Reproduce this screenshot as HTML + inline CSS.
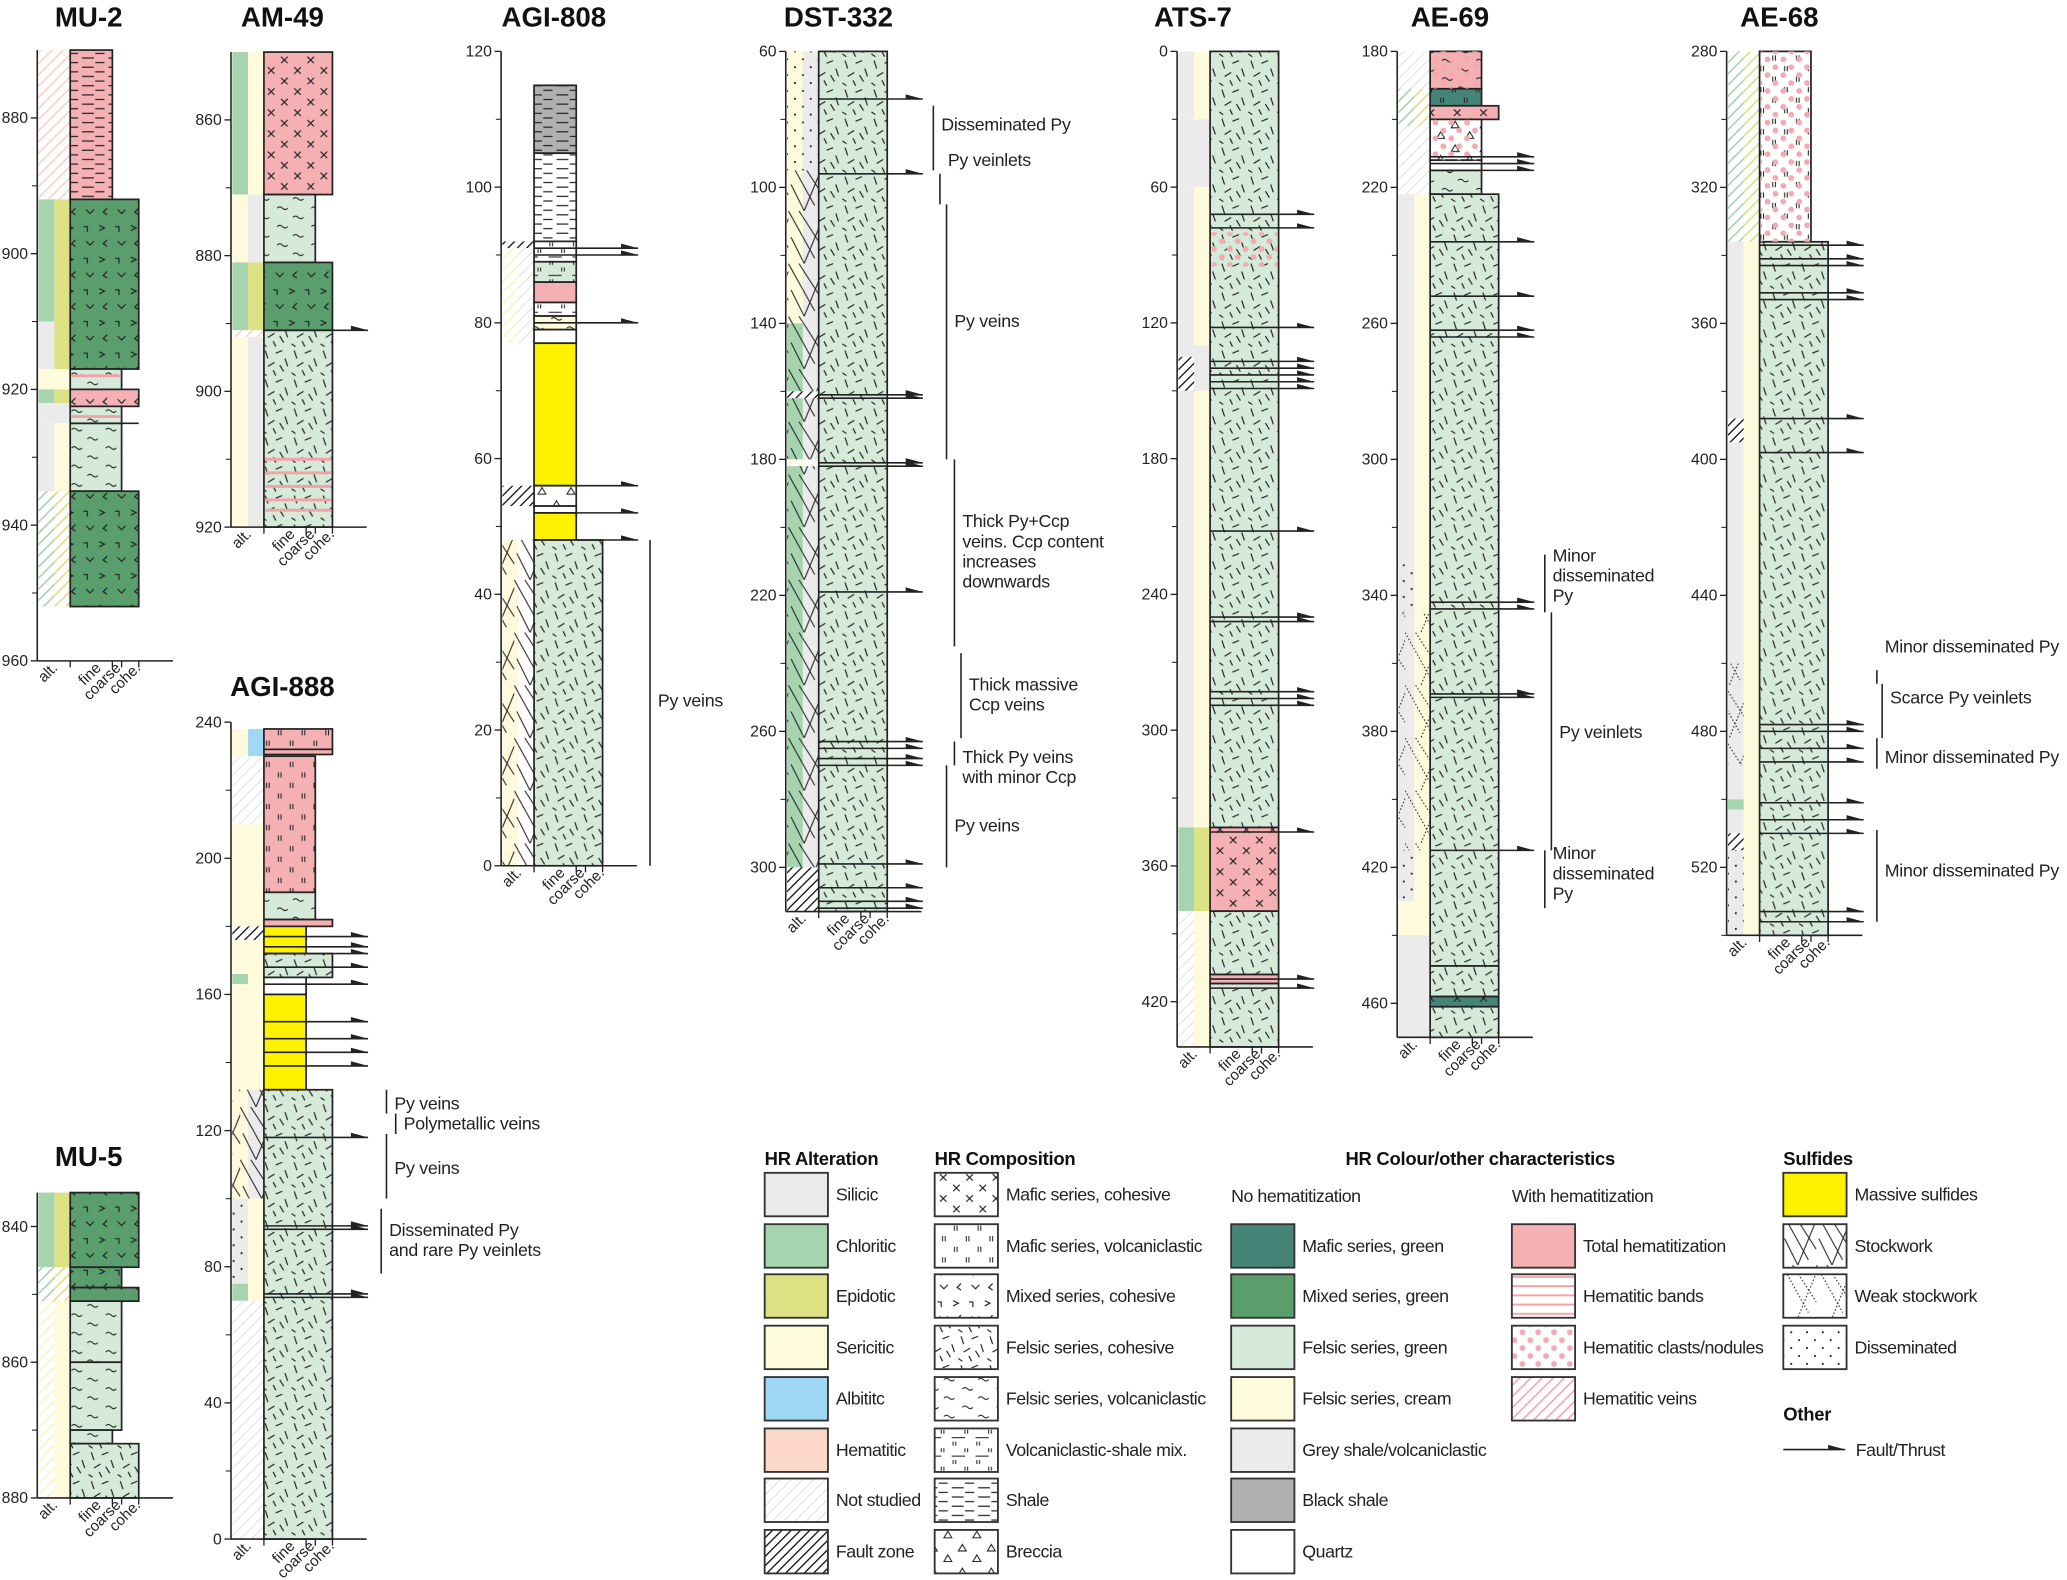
<!DOCTYPE html>
<html><head><meta charset="utf-8">
<style>
html,body{margin:0;padding:0;background:#fff}
svg{display:block;font-family:"Liberation Sans",sans-serif}
</style></head>
<body>
<svg id="fig" xmlns="http://www.w3.org/2000/svg" width="2067" height="1580" viewBox="0 0 1568 1199">
<defs>
<pattern id="p-felsic" patternUnits="userSpaceOnUse" width="22" height="22"><g stroke="#222" stroke-width="0.9"><line x1="3" y1="2" x2="5" y2="8"/><line x1="11" y1="4" x2="16" y2="2"/><line x1="18" y1="8" x2="20" y2="14"/><line x1="5" y1="14" x2="10" y2="11"/><line x1="9" y1="17" x2="11" y2="21"/><line x1="14" y1="13" x2="17" y2="18"/><line x1="1" y1="19" x2="4" y2="21"/></g></pattern>
<pattern id="p-fvolc" patternUnits="userSpaceOnUse" width="26" height="14"><g stroke="#222" stroke-width="0.8" fill="none"><path d="M2 4q2-2 4 0t4 0"/><path d="M14 11q2-2 4 0t4 0"/></g></pattern>
<pattern id="p-mixed" patternUnits="userSpaceOnUse" width="24" height="24"><g stroke="#222" stroke-width="0.9" fill="none"><path d="M3 3l4 2-4 2"/><path d="M15 4h3v4"/><path d="M9 14l-3 3 3 2"/><path d="M17 15l3 3 3-3"/></g></pattern>
<pattern id="p-mafic" patternUnits="userSpaceOnUse" width="20" height="16"><g stroke="#222" stroke-width="0.9"><path d="M3 3l5 5M8 3l-5 5"/><path d="M13 11l5 5M18 11l-5 5"/></g></pattern>
<pattern id="p-mafv" patternUnits="userSpaceOnUse" width="18" height="16"><g stroke="#222" stroke-width="0.8"><path d="M4 2v4M6 2v4M13 10v4M15 10v4"/></g></pattern>
<pattern id="p-shale" patternUnits="userSpaceOnUse" width="20" height="7"><g stroke="#222" stroke-width="0.9"><path d="M2 2h9M12 5.5h7"/></g></pattern>
<pattern id="p-volsh" patternUnits="userSpaceOnUse" width="18" height="14"><g stroke="#222" stroke-width="0.8"><path d="M3 2v3M5 2v3M12 7v3M14 7v3"/><path d="M2 13h10"/></g></pattern>
<pattern id="p-breccia" patternUnits="userSpaceOnUse" width="22" height="18"><g stroke="#222" stroke-width="0.8" fill="none"><path d="M4 2l3 5h-6z"/><path d="M15 10l3 5h-6z"/></g></pattern>
<pattern id="p-hbands" patternUnits="userSpaceOnUse" width="10" height="7"><path d="M0 3h10" stroke="#f3a2a8" stroke-width="1.5"/></pattern>
<pattern id="p-hdots" patternUnits="userSpaceOnUse" width="12" height="12"><circle cx="3" cy="3" r="2.2" fill="#f6a9ae"/><circle cx="9" cy="9" r="2.2" fill="#f6a9ae"/></pattern>
<pattern id="p-dissem" patternUnits="userSpaceOnUse" width="12" height="12"><circle cx="3" cy="3" r="0.8" fill="#222"/><circle cx="9" cy="9" r="0.8" fill="#222"/></pattern>
<pattern id="p-stock" patternUnits="userSpaceOnUse" width="26" height="40"><g stroke="#222" stroke-width="0.8"><path d="M0 0l20 36M8 0l18 28M26 6l-14 34M2 20l10 20"/></g></pattern>
<pattern id="p-weak" patternUnits="userSpaceOnUse" width="26" height="40"><g stroke="#222" stroke-width="0.8" stroke-dasharray="1.2 1.5"><path d="M0 0l20 36M8 0l18 28M26 6l-14 34"/></g></pattern>
<pattern id="h-fault" patternUnits="userSpaceOnUse" width="5" height="5" patternTransform="rotate(45)"><rect width="5" height="5" fill="#fff"/><path d="M0 0v5" stroke="#111" stroke-width="2"/></pattern>
<pattern id="h-hem" patternUnits="userSpaceOnUse" width="6" height="6" patternTransform="rotate(45)"><rect width="6" height="6" fill="#fff"/><path d="M0 0v6" stroke="#f6a9ae" stroke-width="2.5"/></pattern>
<pattern id="h-hemalt" patternUnits="userSpaceOnUse" width="6" height="6" patternTransform="rotate(45)"><rect width="6" height="6" fill="#fff"/><path d="M0 0v6" stroke="#fbd2c4" stroke-width="2.5"/></pattern>
<pattern id="h-chl" patternUnits="userSpaceOnUse" width="6" height="6" patternTransform="rotate(45)"><rect width="6" height="6" fill="#fff"/><path d="M0 0v6" stroke="#a6d4af" stroke-width="2.5"/></pattern>
<pattern id="h-epi" patternUnits="userSpaceOnUse" width="6" height="6" patternTransform="rotate(45)"><rect width="6" height="6" fill="#fff"/><path d="M0 0v6" stroke="#dce183" stroke-width="2.5"/></pattern>
<pattern id="h-ser" patternUnits="userSpaceOnUse" width="6" height="6" patternTransform="rotate(45)"><rect width="6" height="6" fill="#fff"/><path d="M0 0v6" stroke="#fcf4c4" stroke-width="2.5"/></pattern>
<pattern id="h-nots" patternUnits="userSpaceOnUse" width="6" height="6" patternTransform="rotate(45)"><rect width="6" height="6" fill="#fff"/><path d="M0 0v6" stroke="#e6e6e6" stroke-width="2"/></pattern>
</defs>
<g id="logs"></g>
<g id="legend"></g>
</svg>
<script>
// ---------- data ----------
const COL = {pink:'#f4b0b3', dgreen:'#5a9e6e', mgreen:'#458577', fgreen:'#d5ead8', cream:'#fefbdc', yellow:'#fff200', grey:'#ebebeb', bshale:'#b0b0b0', white:'#ffffff',
  sil:'#ebebeb', chl:'#a6d4af', epi:'#dce183', ser:'#fefbdc', alb:'#9ed8f5', hem:'#fbd7ca'};
const WID = {f:32, c:39, h:52};

const mu2Litho = [[870,892,'pink','shale','f'],[892,917,'dgreen','mixed','h'],[917,920,'fgreen','fvolc','c'],[920,922.5,'pink','mixed','h'],[922.5,925,'fgreen','fvolc','c'],[925,935,'fgreen','fvolc','c'],[935,952,'dgreen','mixed','h']];
const mu2Alt = [[870,892,'h-hemalt','h-hemalt'],[892,910,'chl','epi'],[910,917,'sil','epi'],[917,920,'ser','ser'],[920,922,'chl','epi'],[922,925,'sil','sil'],[925,935,'sil','ser'],[935,952,'h-chl','h-epi']];
const mu2Faults = [925];
const mu2Bands = [918,924];

const am49Litho = [[850,871,'pink','mafic','h'],[871,881,'fgreen','fvolc','c'],[881,891,'dgreen','mixed','h'],[891,920,'fgreen','felsic','h']];
const am49Alt = [[850,871,'chl','ser'],[871,881,'ser','sil'],[881,891,'chl','epi'],[891,892,'h-hemalt','h-hemalt'],[892,920,'ser','sil']];
const am49Faults = [891];
const am49Bands = [910,912,914,916,917.5];

const agi808Litho = [[115,105,'bshale','shale','f'],[105,92,'white','shale','f'],[92,89,'white','volsh','f'],[89,86,'fgreen','volsh','f'],[86,83,'pink','','f'],[83,81,'white','volsh','f'],[81,79,'cream','fvolc','f'],[79,77,'white','','f'],[77,56,'yellow','','f'],[56,53,'white','breccia','f'],[53,52,'white','','f'],[52,48,'yellow','','f'],[48,0,'fgreen','felsic','h']];
const agi808Alt = [[92,91,'h-fault','h-fault'],[91,77,'h-ser','h-nots'],[56,53,'h-fault','h-fault'],[48,0,'p-stock-ser','p-stock-nots']];
const agi808Faults = [91,90,80,56,52,48];

const dstLitho = [[60,313,'fgreen','felsic','h']];
const dstAlt = [[60,95,'p-dis-ser','p-dis-sil'],[95,140,'p-stock-ser','p-stock-sil'],[140,160,'p-stock-chl','p-stock-sil'],[160,162,'h-fault','h-fault'],[162,180,'p-stock-chl','p-stock-sil'],[180,182,'h-ser','h-ser'],[182,300,'p-stock-chl','p-stock-sil'],[300,313,'h-fault','h-fault']];
const dstFaults = [74,96,161,162,181,182,219,263,265,268,270,299,306,310,312];

const atsLitho = [[0,343,'fgreen','felsic','h'],[343,380,'pink','mafic','h'],[380,408,'fgreen','felsic','h'],[408,412,'pink','','h'],[412,440,'fgreen','felsic','h']];
const atsAlt = [[0,30,'sil','ser'],[30,60,'sil','sil'],[60,130,'sil','ser'],[130,135,'sil','sil'],[135,150,'h-fault','sil'],[150,343,'sil','ser'],[343,380,'chl','epi'],[380,440,'h-nots','ser']];
const atsFaults = [72,78,122,137,140,143,146,149,212,250,252,283,286,289,345,410,414];
const atsClasts = [[80,95]];

const ae69Litho = [[180,191,'pink','fvolc','c'],[191,196,'mgreen','mafv','c'],[196,200,'pink','mafic','h'],[200,212,'white','breccia','c'],[212,215,'white','','c'],[215,222,'fgreen','fvolc','c'],[222,449,'fgreen','felsic','h'],[449,458,'fgreen','felsic','h'],[458,461,'mgreen','mafic','h'],[461,470,'fgreen','felsic','h']];
const ae69Alt = [[180,191,'h-nots','h-nots'],[191,202,'h-chl','h-epi'],[202,222,'h-nots','h-nots'],[222,330,'sil','ser'],[330,345,'p-dis-sil','ser'],[345,415,'p-weak-sil','p-weak-ser'],[415,430,'p-dis-sil','ser'],[430,440,'ser','ser'],[440,470,'sil','sil']];
const ae69Faults = [211,213,215,236,252,262,264,342,344,369,370,415];
const ae69Clasts = [[180,191],[200,212]];

const ae68Litho = [[280,336,'white','mafv','c'],[336,540,'fgreen','felsic','h']];
const ae68Alt = [[280,336,'h-chl','h-epi'],[336,340,'sil','ser'],[340,350,'sil','ser'],[350,388,'sil','ser'],[388,395,'h-fault','ser'],[395,460,'sil','ser'],[460,490,'p-weak-sil','ser'],[490,500,'sil','ser'],[500,503,'chl','ser'],[503,510,'sil','ser'],[510,515,'h-fault','ser'],[515,540,'p-dis-sil','ser']];
const ae68Faults = [337,341,343,351,353,388,398,478,480,485,489,501,506,510,533,536];

const agi888Litho = [[238,232,'pink','mafv','h'],[232,230.5,'pink','','h'],[230,190,'pink','mafv','c'],[190,182,'fgreen','fvolc','c'],[182,180,'pink','','h'],[180,172,'yellow','','f'],[172,165,'fgreen','felsic','h'],[165,160,'white','','f'],[160,132,'yellow','','f'],[132,0,'fgreen','felsic','h']];
const agi888Alt = [[238,230,'ser','alb'],[230,210,'h-nots','h-nots'],[210,180,'ser','ser'],[180,176,'h-fault','h-fault'],[176,166,'ser','ser'],[166,163,'chl','ser'],[163,132,'ser','ser'],[132,120,'p-stock-ser','p-stock-sil'],[120,100,'p-stock-ser','p-stock-sil'],[100,75,'p-dis-sil','ser'],[75,70,'chl','ser'],[70,0,'h-nots','h-nots']];
const agi888Faults = [177,174,172,168,163,152,147,143,139,118,92,91,72,71];

const mu5Litho = [[835,846,'dgreen','mixed','h'],[846,849,'dgreen','mixed','c'],[849,851,'dgreen','mixed','h'],[851,860,'fgreen','fvolc','c'],[860,870,'fgreen','fvolc','c'],[870,872,'fgreen','fvolc','f'],[872,880,'fgreen','felsic','h']];
const mu5Alt = [[835,846,'chl','epi'],[846,851,'h-chl','h-epi'],[851,880,'h-ser','ser']];

const LOGS = [
 {name:'MU-2', ax:28, topY:38, topD:870, k:5.15, dir:1, t0:880, t1:960, step:20, bot:960, litho:mu2Litho, alt:mu2Alt, faults:mu2Faults, bands:mu2Bands, short:true, tx:67},
 {name:'AM-49', ax:175, topY:39.5, topD:850, k:5.15, dir:1, t0:860, t1:920, step:20, bot:920, litho:am49Litho, alt:am49Alt, faults:am49Faults, bands:am49Bands, tx:214},
 {name:'AGI-808', ax:380, topY:39, topD:120, k:5.15, dir:-1, t0:0, t1:120, step:20, bot:0, litho:agi808Litho, alt:agi808Alt, faults:agi808Faults, tx:420},
 {name:'DST-332', ax:596, topY:39, topD:60, k:2.58, dir:1, t0:60, t1:300, step:40, bot:313, litho:dstLitho, alt:dstAlt, faults:dstFaults, tx:636},
 {name:'ATS-7', ax:893, topY:39, topD:0, k:1.717, dir:1, t0:0, t1:420, step:60, bot:440, litho:atsLitho, alt:atsAlt, faults:atsFaults, clasts:atsClasts, tx:905},
 {name:'AE-69', ax:1060, topY:39, topD:180, k:2.58, dir:1, t0:180, t1:460, step:40, bot:470, litho:ae69Litho, alt:ae69Alt, faults:ae69Faults, clasts:ae69Clasts, tx:1100},
 {name:'AE-68', ax:1310, topY:39, topD:280, k:2.58, dir:1, t0:280, t1:520, step:40, bot:540, litho:ae68Litho, alt:ae68Alt, faults:ae68Faults, clasts:[[280,336]], tx:1350},
 {name:'AGI-888', ax:175, topY:548, topD:240, k:2.583, dir:-1, t0:0, t1:240, step:40, bot:0, litho:agi888Litho, alt:agi888Alt, faults:agi888Faults, titleY:528, tx:214},
 {name:'MU-5', ax:28, topY:905, topD:835, k:5.15, dir:1, t0:840, t1:880, step:20, bot:880, litho:mu5Litho, alt:mu5Alt, faults:[], titleY:885, tx:67}
];

// annotations: [log index, depthFrom, depthTo, bracketX, text lines, textY]
const NOTES = [
 [2,48,0,493,['Py veins'],536],
 [3,76,95,708,['Disseminated Py'],99],
 [3,96,105,713,['Py veinlets'],126],
 [3,105,180,718,['Py veins'],248],
 [3,180,235,724,['Thick Py+Ccp','veins. Ccp content','increases','downwards'],400],
 [3,237,262,729,['Thick massive','Ccp veins'],524],
 [3,263,270,724,['Thick Py veins','with minor Ccp'],579],
 [3,270,300,718,['Py veins'],631],
 [5,328,345,1172,['Minor','disseminated','Py'],426],
 [5,345,415,1177,['Py veinlets'],560],
 [5,415,432,1172,['Minor','disseminated','Py'],652],
 [6,462,466,1424,['Minor disseminated Py'],495],
 [6,466,482,1428,['Scarce Py veinlets'],534],
 [6,482,491,1424,['Minor disseminated Py'],579],
 [6,509,536,1424,['Minor disseminated Py'],665],
 [7,132,125,293,['Py veins'],842],
 [7,125,119,300,['Polymetallic veins'],857],
 [7,119,100,293,['Py veins'],891],
 [7,97,78,289,['Disseminated Py','and rare Py veinlets'],938]
];

// ---------- drawing ----------
const NS='http://www.w3.org/2000/svg';
function mk(tag, attrs, parent){const e=document.createElementNS(NS,tag);for(const k in attrs)e.setAttribute(k,attrs[k]);parent.appendChild(e);return e;}
function altFill(code){
  if(code.startsWith('h-')) return [null,'url(#'+code+')'];
  if(code.startsWith('p-stock-')) return [COL[code.slice(8)],'url(#p-stock)'];
  if(code.startsWith('p-weak-')) return [COL[code.slice(7)],'url(#p-weak)'];
  if(code.startsWith('p-dis-')) return [COL[code.slice(6)],'url(#p-dissem)'];
  return [COL[code],null];
}
const root=document.getElementById('logs');
LOGS.forEach((L,li)=>{
  const g=mk('g',{},root);
  
  
  const y=d=>L.topY+(d-L.topD)*L.k*L.dir;
  const x0=L.ax+25;
  const t=mk('text',{x:L.tx,y:L.titleY||20,'font-size':21,'font-weight':'bold','text-anchor':'middle',fill:'#111'},g);
  t.textContent=L.name;
  
  
  L.alt.forEach(a=>{
    const ya=y(a[0]), yb=y(a[1]), top=Math.min(ya,yb), h=Math.abs(yb-ya);
    [a[2],a[3]].forEach((c,i)=>{
      const [bg,pt]=altFill(c);const xx=L.ax+1+i*12;
      if(bg){const r=mk('rect',{x:xx,y:top,width:12,height:h,fill:bg},g);}
      if(pt){const r=mk('rect',{x:xx,y:top,width:12,height:h,fill:pt},g);}
    });
  });
  L.litho.forEach(s=>{
    const ya=y(s[0]), yb=y(s[1]), top=Math.min(ya,yb), h=Math.abs(yb-ya), w=WID[s[4]];
    const r=mk('rect',{x:x0,y:top,width:w,height:h,fill:COL[s[2]]},g);
    
    
    if(s[3]){const p=mk('rect',{x:x0,y:top,width:w,height:h,fill:'url(#p-'+s[3]+')'},g);}
    mk('rect',{x:x0,y:top,width:w,height:h,fill:'none',stroke:'#222','stroke-width':1.3},g);
  });
  (L.clasts||[]).forEach(c=>{
    const ya=y(c[0]), yb=y(c[1]);
    const r=mk('rect',{x:x0+1,y:Math.min(ya,yb),width:(L.name==='ATS-7'?50:37),height:Math.abs(yb-ya),fill:'url(#p-hdots)'},g);
    
  });
  (L.bands||[]).forEach(b=>{
    const r=mk('line',{x1:x0+1,x2:x0+(L.name==='MU-2'?38:51),y1:y(b),y2:y(b),stroke:'#f3a2a8','stroke-width':2.2},g);
    
  });
  L.faults.forEach(f=>{
    const yy=y(f);
    const end=L.short?x0+52:x0+79;
    const ln=mk('line',{x1:x0,x2:end,y1:yy,y2:yy,stroke:'#222','stroke-width':1.2},g);
    
    if(!L.short) mk('path',{d:`M${end-13} ${yy-3.5}L${end} ${yy}L${end-13} ${yy}Z`,fill:'#222'},g);
  });
  const yt=y(L.topD), yb=y(L.bot);
  const ax=mk('line',{x1:L.ax,x2:L.ax,y1:Math.min(yt,yb),y2:Math.max(yt,yb),stroke:'#222','stroke-width':1.2},g);
  
  for(let d=L.t0; d<=L.t1; d+=L.step){
    mk('line',{x1:L.ax-5,x2:L.ax,y1:y(d),y2:y(d),stroke:'#222','stroke-width':1},g);
    const m=d+L.step/2; if((L.dir>0&&m<=L.bot)||(L.dir<0&&m<=L.topD)) mk('line',{x1:L.ax-4,x2:L.ax,y1:y(m),y2:y(m),stroke:'#222','stroke-width':0.8},g);
    const tx=mk('text',{x:L.ax-7,y:y(d)+4,'font-size':12,'text-anchor':'end',fill:'#222'},g);
    tx.textContent=d;
    
  }
  const by=Math.max(yt,yb);
  mk('line',{x1:L.ax,x2:x0+78,y1:by,y2:by,stroke:'#222','stroke-width':1.2},g);
  [[L.ax+12,'alt.'],[x0+20,'fine'],[x0+35,'coarse'],[x0+50,'cohe.']].forEach(([xx,s])=>{
    const tx=mk('text',{x:xx+4,y:by+6,'font-size':11.5,'text-anchor':'end',fill:'#222',transform:`rotate(-45 ${xx+4} ${by+6})`},g);
    tx.textContent=s;
  });
  [x0,x0+32,x0+39,x0+52].forEach(xx=>mk('line',{x1:xx,x2:xx,y1:by,y2:by+5,stroke:'#222'},g));
});
NOTES.forEach(n=>{
  const L=LOGS[n[0]];const y=d=>L.topY+(d-L.topD)*L.k*L.dir;
  const g=mk('g',{},root);
  
  mk('line',{x1:n[3],x2:n[3],y1:y(n[1]),y2:y(n[2]),stroke:'#222','stroke-width':1.2},g);
  n[4].forEach((s,i)=>{const t=mk('text',{x:n[3]+6,y:n[5]+i*15.3,'font-size':13.5,'letter-spacing':-0.2,fill:'#222'},g);t.textContent=s;});
});
// ---------- legend ----------
const LG=document.getElementById('legend');
function hdr(x,y,s,anchor){const t=mk('text',{x:x,y:y,'font-size':14,'font-weight':'bold','letter-spacing':-0.2,fill:'#111','text-anchor':anchor||'start'},LG);t.textContent=s;}
function item(x,y,bg,pat,label){
  const g=mk('g',{},LG);
  
  mk('rect',{x:x,y:y,width:48,height:33,fill:bg||'#fff'},g);
  if(pat) mk('rect',{x:x,y:y,width:48,height:33,fill:pat},g);
  mk('rect',{x:x,y:y,width:48,height:33,fill:'none',stroke:'#333','stroke-width':1.4},g);
  const t=mk('text',{x:x+54,y:y+21,'font-size':13.5,'letter-spacing':-0.35,fill:'#222'},g);t.textContent=label;
}
const rowsY=[890,929,967,1006,1045,1084,1122,1161];
hdr(580,884,'HR Alteration');
[['#ebebeb',null,'Silicic'],['#a6d4af',null,'Chloritic'],['#dce183',null,'Epidotic'],['#fefbdc',null,'Sericitic'],['#9ed8f5',null,'Albititc'],['#fbd7ca',null,'Hematitic'],[null,'url(#h-nots)','Not studied'],[null,'url(#h-fault)','Fault zone']].forEach((r,i)=>item(580,rowsY[i],r[0],r[1],r[2]));
hdr(709,884,'HR Composition');
[['mafic','Mafic series, cohesive'],['mafv','Mafic series, volcaniclastic'],['mixed','Mixed series, cohesive'],['felsic','Felsic series, cohesive'],['fvolc','Felsic series, volcaniclastic'],['volsh','Volcaniclastic-shale mix.'],['shale','Shale'],['breccia','Breccia']].forEach((r,i)=>item(709,rowsY[i],'#fff','url(#p-'+r[0]+')',r[1]));
hdr(1123,884,'HR Colour/other characteristics','middle');
const sub1=mk('text',{x:934,y:912,'font-size':13.5,'letter-spacing':-0.35,fill:'#222'},LG);sub1.textContent='No hematitization';
const sub2=mk('text',{x:1147,y:912,'font-size':13.5,'letter-spacing':-0.35,fill:'#222'},LG);sub2.textContent='With hematitization';
[['#458577','Mafic series, green'],['#5a9e6e','Mixed series, green'],['#d5ead8','Felsic series, green'],['#fefbdc','Felsic series, cream'],['#ebebeb','Grey shale/volcaniclastic'],['#b0b0b0','Black shale'],['#fff','Quartz']].forEach((r,i)=>item(934,rowsY[i+1],r[0],null,r[1]));
[['#f4b0b3',null,'Total hematitization'],['#fff','url(#p-hbands)','Hematitic bands'],['#fff','url(#p-hdots)','Hematitic clasts/nodules'],[null,'url(#h-hem)','Hematitic veins']].forEach((r,i)=>item(1147,rowsY[i+1],r[0],r[1],r[2]));
hdr(1353,884,'Sulfides');
[['#fff200',null,'Massive sulfides'],['#fff','url(#p-stock)','Stockwork'],['#fff','url(#p-weak)','Weak stockwork'],['#fff','url(#p-dissem)','Disseminated']].forEach((r,i)=>item(1353,rowsY[i],r[0],r[1],r[2]));
hdr(1353,1078,'Other');
const fl=mk('line',{x1:1353,x2:1400,y1:1100,y2:1100,stroke:'#222','stroke-width':1.2},LG);

mk('path',{d:'M1387 1096.5L1400 1100L1387 1100Z',fill:'#222'},LG);
const ft=mk('text',{x:1408,y:1105,'font-size':13.5,'letter-spacing':-0.35,fill:'#222'},LG);ft.textContent='Fault/Thrust';
</script>
</body></html>
